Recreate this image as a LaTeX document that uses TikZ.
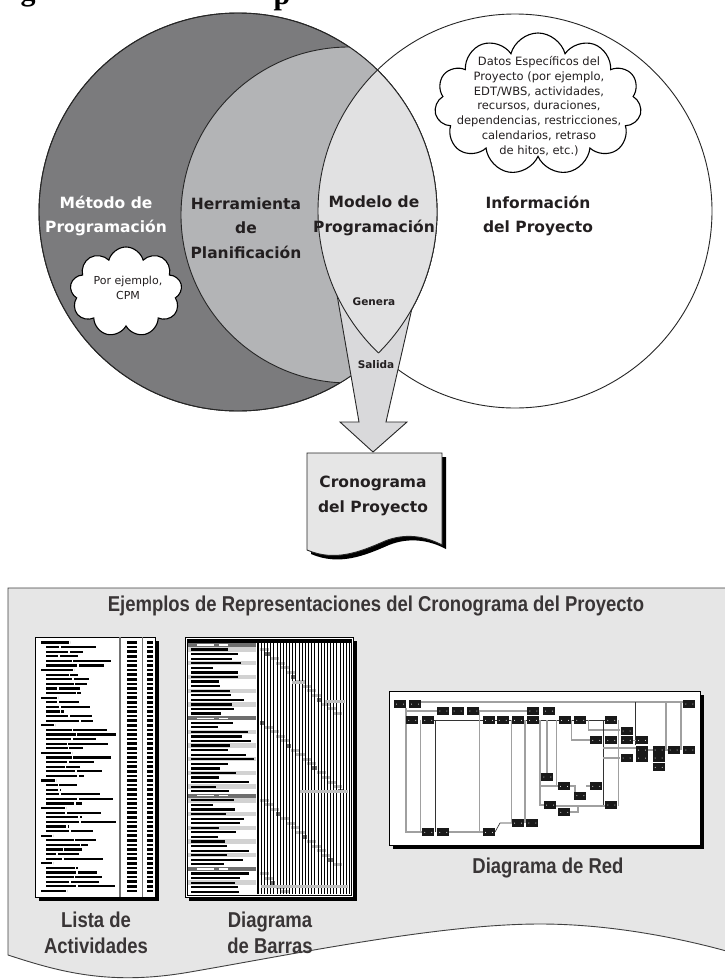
\documentclass[tikz,border=0pt]{standalone}
\usepackage{fontspec}
\setmainfont{DejaVu Sans}
\newfontfamily\condfont[FakeStretch=0.86]{Liberation Sans}
\newfontfamily\headserif{Liberation Serif}
\usetikzlibrary{shapes.symbols}

\definecolor{methodgray}{HTML}{7B7B7D}
\definecolor{toolgray}{HTML}{B3B4B6}
\definecolor{modelgray}{HTML}{E1E1E2}
\definecolor{arrowgray}{HTML}{D9D9DB}
\definecolor{panelgray}{HTML}{E6E6E6}
\definecolor{ink}{HTML}{231F20}
\definecolor{bandgray}{HTML}{6E6E6E}
\definecolor{rowgray}{HTML}{D2D2D2}
\definecolor{bargray}{HTML}{BDBDBD}
\definecolor{wiregray}{HTML}{A0A0A0}

\tikzset{
  outline/.style={draw=black!85, line width=0.9pt},
  biglabel/.style={font=\bfseries\fontsize{15.5}{24.5}\selectfont, text=ink, align=center, inner sep=0pt},
  smalllabel/.style={font=\bfseries\fontsize{10.5}{12}\selectfont, text=ink, inner sep=0pt},
  cloudtext/.style={font=\fontsize{11.5}{14.8}\selectfont, text=ink, align=center, inner sep=0pt},
  puff/.style={cloud, draw=black, line width=1.1pt, fill=white, cloud ignores aspect, inner sep=0pt},
  caption/.style={font=\condfont\bfseries\fontsize{21.5}{26}\selectfont, text=ink!90, align=center, inner sep=0pt},
  headglyph/.style={font=\headserif\bfseries\fontsize{30}{30}\selectfont, anchor=base, inner sep=0pt},
  netbox/.style={fill=black!90, minimum width=12pt, minimum height=8pt, inner sep=0pt},
  wire/.style={draw=wiregray, line width=1.1pt},
  darkwire/.style={draw=black!80, line width=0.7pt},
}

\begin{document}
\begin{tikzpicture}[x=1pt,y=-1pt]
\useasboundingbox (0,0) rectangle (724,980);
\fill[white] (0,0) rectangle (724,980);

% heading line above the frame (only its descenders reach the page)
\node[headglyph] (hg1) at (28,0) {g};
\node[headglyph] (hp1) at (282,4) {p};
\node[headglyph] (hg2) at (607,-8) {g};

% ---------------- overlapping circles ----------------
\coordinate (mc) at (238,212);   % scheduling method
\coordinate (ic) at (515,211);   % project information
\coordinate (tc) at (349,215);   % planning tool

\path[fill=white, outline] (ic) circle[radius=197pt];
\path[fill=methodgray, outline] (mc) circle[radius=199pt];
\begin{scope}
  \clip (mc) circle[radius=199pt];
  \path[fill=toolgray, outline] (tc) circle[radius=168pt];
\end{scope}
\draw[outline] (mc) circle[radius=199pt];

% output arrow
\path[fill=arrowgray, outline] (331,260) -- (359,422) -- (340,422) -- (373,452)
  -- (407,422) -- (386,422) -- (423,260) -- cycle;

% schedule model lens
\begin{scope}
  \clip (mc) circle[radius=199pt];
  \path[fill=modelgray] (ic) circle[radius=197pt];
  \draw[outline] (ic) circle[radius=197pt];
\end{scope}
\begin{scope}
  \clip (ic) circle[radius=197pt];
  \draw[outline] (mc) circle[radius=199pt];
\end{scope}

% clouds
\node[puff, cloud puffs=11, minimum width=207pt, minimum height=142pt] (datacloud) at (538,104) {};
\node[cloudtext] (datatext) at (539,106) {Datos Específicos del\\Proyecto (por ejemplo,\\EDT/WBS, actividades,\\recursos, duraciones,\\dependencias, restricciones,\\calendarios, retraso\\de hitos, etc.)};
\node[puff, cloud puffs=9, minimum width=112pt, minimum height=90pt] (cpmcloud) at (126,292) {};
\node[cloudtext, font=\fontsize{11}{15}\selectfont] (cpmtext) at (128,288) {Por ejemplo,\\CPM};

% labels
\node[biglabel, text=white] (method) at (106,216) {Método de\\Programación};
\node[biglabel] (tool) at (246,228) {Herramienta\\de\\Planificación};
\node[biglabel] (model) at (374,216) {Modelo de\\Programación};
\node[biglabel] (info) at (538,216) {Información\\del Proyecto};
\node[smalllabel] (genera) at (374,302) {Genera};
\node[smalllabel] (salida) at (376,365) {Salida};

% ---------------- schedule document ----------------
\fill[black, shift={(4,4)}] (307,453) -- (442,453) -- (442,545)
  .. controls (425,536) and (405,533) .. (385,541)
  .. controls (360,552) and (335,562) .. (307,550) -- cycle;
\path[fill=panelgray, outline] (307,453) -- (442,453) -- (442,545)
  .. controls (425,536) and (405,533) .. (385,541)
  .. controls (360,552) and (335,562) .. (307,550) -- cycle;
\node[biglabel] (schedule) at (373,496) {Cronograma\\del Proyecto};

% ---------------- examples panel ----------------
\path[fill=panelgray, draw=black!75, line width=0.9pt] (730,588) -- (8,588) -- (8,955)
  .. controls (60,972) and (110,986) .. (190,972)
  .. controls (300,953) and (440,924) .. (540,924)
  .. controls (610,924) and (680,938) .. (730,952);
\node[caption] (examples) at (376,606) {Ejemplos de Representaciones del Cronograma del Proyecto};

% activity list thumbnail
\fill[black] (39,641) rectangle (159,901);
\draw[fill=white, line width=0.7pt] (35,637) rectangle (155,897);
\draw[black!55, line width=1.3pt] (120,637) -- (120,897);
\draw[black!55, line width=0.8pt] (142,637) -- (142,897);
\pgfmathsetseed{4}
\foreach \i in {0,...,54}{
  \pgfmathsetmacro\yy{642.5+4.6*\i}
  \fill (127,\yy-1.3) rectangle (137,\yy+1.3);
  \fill (147,\yy-1.3) rectangle (153,\yy+1.3);
  \pgfmathsetmacro\ind{ifthenelse(mod(\i,6)==0,41,46)}
  \pgfmathsetmacro\la{8+rnd*26}
  \pgfmathsetmacro\lb{ifthenelse(mod(\i,6)==0,0,rnd*42)}
  \fill (\ind,\yy-1.1) rectangle (\ind+\la,\yy+1.1);
  \fill (\ind+\la+1.5,\yy-1.1) rectangle ({min(\ind+\la+1.5+\lb,116)},\yy+1.1);
}

% bar chart thumbnail
\fill[black] (189,641) rectangle (357,901);
\draw[fill=white, line width=0.8pt] (185,637) rectangle (353,897);
\draw[line width=0.5pt] (186.8,638.8) rectangle (351.2,895.2);
\fill (187,640) rectangle (351,642.5);
\foreach \i in {0,...,54}{
  \pgfmathsetmacro\yy{645+4.57*\i}
  \pgfmathtruncatemacro\summ{(\i==0)||(\i==16)||(\i==33)||(\i==49)}
  \ifnum\summ=1
    \fill[bandgray] (188,\yy-2.2) rectangle (256,\yy+2.2);
    \fill[white] (197,\yy-0.6) rectangle (214,\yy+0.6);
    \fill[white] (219,\yy-0.6) rectangle (228,\yy+0.6);
  \else
    \pgfmathtruncatemacro\shade{mod(\i,3)==1}
    \ifnum\shade=1 \fill[rowgray] (188,\yy-2.2) rectangle (256,\yy+2.2); \fi
    \pgfmathsetmacro\lb{22+rnd*42}
    \fill (191,\yy-1.1) rectangle (191+\lb,\yy+1.1);
    \pgfmathsetmacro\start{ifthenelse(\i<16,1,ifthenelse(\i<33,17,ifthenelse(\i<49,34,50)))}
    \pgfmathsetmacro\bx{260+5.2*(\i-\start)}
    \pgfmathtruncatemacro\dark{mod(\i,5)==2}
    \ifnum\dark=1
      \fill[bandgray] (\bx,\yy-2) rectangle (\bx+5,\yy+2);
    \else
      \fill[bargray] (\bx,\yy-1.5) rectangle (\bx+9,\yy+1.5);
    \fi
  \fi
}
\foreach \k in {0,...,29} \draw[line width=0.7pt] ({258+3.15*\k},642.5) -- ({258+3.15*\k},894);
\draw[line width=0.8pt] (257,642.5) -- (257,894);
\fill[bargray] (292,681) rectangle (305,684);
\fill[bargray] (325,700) rectangle (345,703);
\fill[bargray] (300,790) rectangle (348,793);
\fill[bargray] (261,885) rectangle (348,888);

% network diagram thumbnail
\fill[black] (393,695) rectangle (704,849);
\draw[fill=white, line width=0.8pt] (389,691) rectangle (700,845);
\draw[wire] (421,702) -- (683,702);
\draw[darkwire] (635,702) -- (635,745);
\draw[wire] (666,702) -- (666,750);
\draw[wire] (681,702) -- (681,750);
\draw[wire] (406,708) -- (406,832) -- (422,832);
\draw[wire] (406,711) -- (437,711);
\draw[wire] (479,711) -- (527,711);
\draw[wire] (420.7,720) -- (420.7,832);
\draw[darkwire] (435.7,720) -- (435.7,832);
\draw[darkwire] (434,720.3) -- (611,720.3);
\draw[wire] (449,832) -- (483,832);
\draw[wire] (479.3,711) -- (479.3,832);
\draw[darkwire] (495,832) -- (500,823) -- (512,823);
\draw[wire] (511.7,720) -- (511.7,823);
\draw[wire] (525,720) -- (525,823);
\draw[wire] (540,720) -- (540,805) -- (544,805);
\draw[wire] (540,786) -- (558,786);
\draw[wire] (556.7,720) -- (556.7,786);
\draw[wire] (571.7,720) -- (571.7,740) -- (590,740);
\draw[wire] (588.3,720) -- (588.3,730) -- (620,730);
\draw[darkwire] (603.3,720) -- (603.3,806);
\draw[wire] (556,806) -- (605,806);
\draw[wire] (618.3,720) -- (618.3,806);
\draw[wire] (570,786) -- (575,786) -- (575,796);
\draw[wire] (586,786) -- (590,786);
\draw[wire] (603,748) -- (636,748);
\draw[wire] (603,758) -- (620,758);
\draw[wire] (632,740.3) -- (636,740.3);
\draw[wire] (648,750) -- (668,750);
\draw[wire] (570,812) -- (578,812) -- (578,806);
\draw[wire] (547,720) -- (547,777);
\foreach \x/\y [count=\n] in {400/704, 415/704, 689.3/704,
  443.3/711, 457.7/711, 473.3/711, 533.3/711, 549/711,
  412.3/720.3, 428.3/720.3, 489/720.3, 502.7/720.3, 518/720.3, 533/720.3, 565/720.3, 580.3/720.3, 611.3/720.3,
  626.7/731, 596.3/740.3, 611.3/740.3, 626.7/740.3, 642/740.3,
  642/750, 658.7/750, 673.7/750, 689.3/750, 626.7/758, 642/758, 658.7/758, 658.7/767.3,
  547.3/777, 564/786.3, 596.3/786.3, 580.3/795.7, 550/805, 611.3/805, 564.3/812.3,
  518/823, 532.3/823, 428.3/832.3, 443.3/832.3, 489/832.3}{
  \node[netbox] (nb\n) at (\x,\y) {};
  \fill[white] (\x-3.5,\y) circle[radius=0.5pt] (\x+3.5,\y) circle[radius=0.5pt];
}

\node[caption] (listcap) at (96,933) {Lista de\\Actividades};
\node[caption] (barcap) at (270,933) {Diagrama\\de Barras};
\node[caption] (netcap) at (548,868) {Diagrama de Red};
\end{tikzpicture}
\end{document}
